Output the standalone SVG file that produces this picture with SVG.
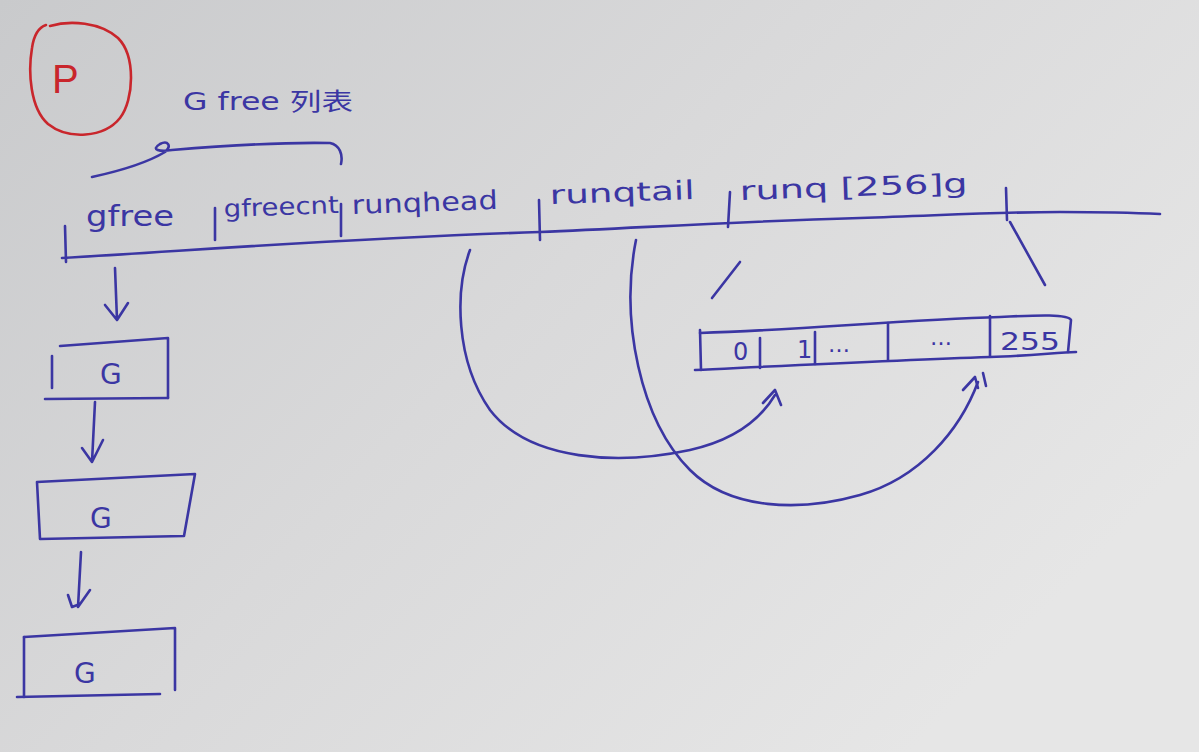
<svg xmlns="http://www.w3.org/2000/svg" width="1199" height="752" viewBox="0 0 1199 752">
<defs>
<linearGradient id="bg" x1="0" y1="0" x2="1" y2="0.6">
<stop offset="0" stop-color="#c9cacc"/>
<stop offset="0.5" stop-color="#d9d9da"/>
<stop offset="1" stop-color="#e6e6e6"/>
</linearGradient>
<style>
.ink{fill:none;stroke:#3b36a3;stroke-width:2.6;stroke-linecap:round;stroke-linejoin:round}
.red{fill:none;stroke:#c9262c;stroke-width:2.6;stroke-linecap:round}
.t{fill:#3b36a3;font-family:"DejaVu Sans","Noto Sans CJK SC",sans-serif}
.g{fill:#3b36a3;font-family:"DejaVu Sans",sans-serif;font-size:28px}
</style>
</defs>
<rect width="1199" height="752" fill="url(#bg)"/>

<g id="p-label">
<path class="red" d="M50,26 C70,20 100,22 118,38 C136,56 134,100 120,118 C104,138 68,140 48,124 C30,108 28,72 32,48 C34,34 40,27 46,25"/>
<text x="52" y="93" font-family="Liberation Sans,sans-serif" font-size="40" fill="#c9262c">P</text>
</g>

<g id="gfree-title">
<text class="t" x="183" y="110" font-size="24" textLength="170" lengthAdjust="spacingAndGlyphs">G free 列表</text>
<path class="ink" d="M92,177 C115,172 145,164 165,152 C172,146 168,140 160,144 C150,150 160,152 172,150 C220,146 280,142 330,143 C340,145 343,155 341,164"/>
</g>

<g id="p-struct">
<path class="ink" d="M62,258 C200,250 350,238 540,232 C640,228 720,222 860,218 C950,215 1000,212 1060,212 C1110,212 1140,213 1160,214"/>
<path class="ink" d="M65,226 L66,262"/>
<path class="ink" d="M215,208 L215,240"/>
<path class="ink" d="M341,204 L341,236"/>
<path class="ink" d="M539,200 L540,240"/>
<path class="ink" d="M730,192 L728,227"/>
<path class="ink" d="M1006,188 L1007,220"/>
<text class="t" x="86" y="226" font-size="28" textLength="88" lengthAdjust="spacingAndGlyphs">gfree</text>
<text class="t" x="224" y="217" font-size="24" textLength="115" lengthAdjust="spacingAndGlyphs" transform="rotate(-2 224 217)">gfreecnt</text>
<text class="t" x="352" y="214" font-size="26" textLength="146" lengthAdjust="spacingAndGlyphs" transform="rotate(-2 352 214)">runqhead</text>
<text class="t" x="550" y="204" font-size="26" textLength="145" lengthAdjust="spacingAndGlyphs" transform="rotate(-2 550 204)">runqtail</text>
<text class="t" x="740" y="200" font-size="26" textLength="228" lengthAdjust="spacingAndGlyphs" transform="rotate(-2 740 200)">runq [256]g</text>
</g>

<g id="g1">
<path class="ink" d="M60,346 L168,338 L168,398"/>
<path class="ink" d="M45,399 L168,398"/>
<path class="ink" d="M52,356 L52,388"/>
<text class="g" x="100" y="384">G</text>
</g>

<g id="g2">
<path class="ink" d="M37,482 L195,474 L184,536 L40,539 Z"/>
<text class="g" x="90" y="528">G</text>
</g>

<g id="g3">
<path class="ink" d="M24,637 L175,628 L175,690"/>
<path class="ink" d="M17,697 L160,694"/>
<path class="ink" d="M24,637 L24,697"/>
<text class="g" x="74" y="683">G</text>
</g>

<g id="runq-array">
<path class="ink" d="M700,333 C800,330 900,320 1000,317 C1040,315 1068,314 1071,320 L1068,352"/>
<path class="ink" d="M695,370 C800,365 900,360 990,357 C1030,356 1060,352 1076,352"/>
<path class="ink" d="M700,330 L701,370"/>
<path class="ink" d="M760,338 L760,368"/>
<path class="ink" d="M815,332 L815,364"/>
<path class="ink" d="M888,323 L888,360"/>
<path class="ink" d="M990,316 L990,356"/>
<text class="t" x="733" y="360" font-size="24">0</text>
<text class="t" x="797" y="358" font-size="24">1</text>
<text class="t" x="828" y="352" font-size="22">…</text>
<text class="t" x="930" y="345" font-size="22">…</text>
<text class="t" x="1000" y="350" font-size="24" textLength="60" lengthAdjust="spacingAndGlyphs">255</text>
</g>

<g id="connectors">
<path class="ink" d="M115,268 L117,320 M105,305 L117,320 L128,303"/>
<path class="ink" d="M95,402 L92,462 M82,448 L92,462 L103,440"/>
<path class="ink" d="M81,552 L78,607 M68,595 L72,607 L80,604 M78,607 L90,590"/>
<path class="ink" d="M740,262 L712,298"/>
<path class="ink" d="M1010,222 L1045,285"/>
<path class="ink" d="M470,250 C455,290 455,360 490,410 C530,462 620,465 690,450 C735,440 760,420 775,395"/>
<path class="ink" d="M763,403 L775,390 L781,405"/>
<path class="ink" d="M636,240 C620,320 640,420 690,470 C730,510 800,512 860,495 C920,478 960,430 978,382"/>
<path class="ink" d="M963,390 L975,377 L978,388 M983,373 L986,386"/>
</g>
</svg>
